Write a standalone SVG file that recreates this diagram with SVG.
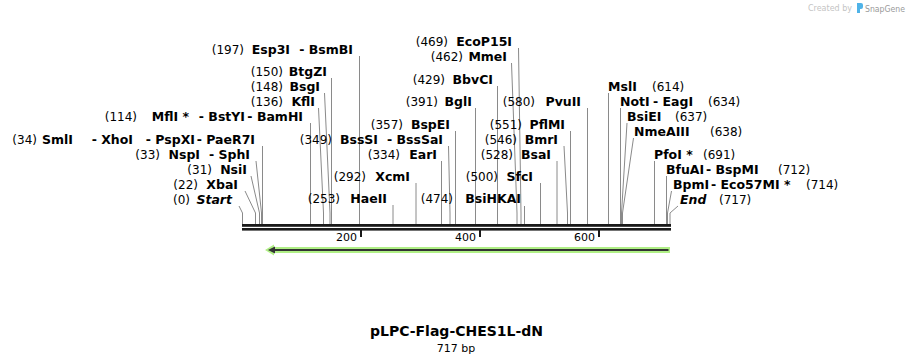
<svg xmlns="http://www.w3.org/2000/svg" width="913" height="363" viewBox="0 0 913 363">
<style>
text{font-family:"DejaVu Sans",Verdana,sans-serif;font-size:12px;fill:#000}
.b{font-weight:bold;font-size:12.5px}
.i{font-weight:bold;font-style:italic;font-size:12.5px}
.e{text-anchor:end}
.s{text-anchor:start}
.ln{stroke:#8a8a8a;stroke-width:1;fill:none}
.sc{font-size:11px}
</style>
<rect width="913" height="363" fill="#fff"/>
<g id="credit">
<text x="852" y="11" class="e" style="font-size:8px;fill:#c4c4c4">Created by</text>
<path d="M857,3 h4 a2,2 0 0 1 2,2 v2 a2,2 0 0 1 -2,2 h-1 v4 h-3 z" fill="#4fb3e8"/>
<text x="865" y="11.5" textLength="40" lengthAdjust="spacingAndGlyphs" style="font-size:9.5px;fill:#9a9a9a">SnapGene</text>
</g>
<g id="connectors">
<path class="ln" d="M239,206 L242.5,213 V224"/>
<path class="ln" d="M245,191 L255.5,213 V224"/>
<path class="ln" d="M251,176 L259.5,213 V224"/>
<path class="ln" d="M256,161 L261.5,213 V224"/>
<path class="ln" d="M262.5,146 V224"/>
<path class="ln" d="M310.5,123 V224"/>
<path class="ln" d="M318.5,108 L323.5,213 V224"/>
<path class="ln" d="M324.5,93 L330,213 V224"/>
<path class="ln" d="M331.5,78 V224"/>
<path class="ln" d="M359.5,56 V224"/>
<path class="ln" d="M393,205 V224"/>
<path class="ln" d="M416,183 V224"/>
<path class="ln" d="M441.5,161 V224"/>
<path class="ln" d="M448.5,146 L450,213 V224"/>
<path class="ln" d="M455.5,131 V224"/>
<path class="ln" d="M475.5,108 V224"/>
<path class="ln" d="M497.5,86 V224"/>
<path class="ln" d="M511.5,63 L517,213 V224"/>
<path class="ln" d="M518.5,48 L521,213 V224"/>
<path class="ln" d="M524.5,206 V224"/>
<path class="ln" d="M540.5,183 V224"/>
<path class="ln" d="M557,161 V224"/>
<path class="ln" d="M564,146 L567.5,213 V224"/>
<path class="ln" d="M570.5,131 V224"/>
<path class="ln" d="M587.5,108 V224"/>
<path class="ln" d="M608.5,93 V224"/>
<path class="ln" d="M620.5,108 V224"/>
<path class="ln" d="M627,123 L621.5,213 V224"/>
<path class="ln" d="M633.5,138 L622.5,213 V224"/>
<path class="ln" d="M654.5,161 V224"/>
<path class="ln" d="M666.5,176 V224"/>
<path class="ln" d="M671.5,191 L667.5,213 V224"/>
<path class="ln" d="M678,206 L670,213 V224"/>
</g>
<g id="sequence">
<rect x="242" y="224" width="429" height="2.8" fill="#1a1a1a"/>
<rect x="242" y="228" width="429" height="2.6" fill="#1a1a1a"/>
<rect x="360" y="230" width="2" height="7" fill="#1a1a1a"/>
<rect x="479" y="230" width="2" height="7" fill="#1a1a1a"/>
<rect x="598" y="230" width="2" height="7" fill="#1a1a1a"/>
<text class="e sc" x="357" y="241">200</text>
<text class="e sc" x="476" y="241">400</text>
<text class="e sc" x="595" y="241">600</text>
</g>
<g id="feature">
<polygon points="265,250 274,244.5 274,247 670,247 670,253 274,253 274,255.5" fill="#b0ef86"/>
<line x1="272" y1="250" x2="668.5" y2="250" stroke="#333" stroke-width="2"/>
<polygon points="268,250 275,246.5 275,253.5" fill="#333"/>
</g>
<g id="Start"><text class="e" y="204"><tspan x="190">(0)</tspan><tspan class="i" x="232">Start</tspan></text></g>
<g id="XbaI"><text class="e" y="189"><tspan x="198">(22)</tspan><tspan class="b" x="238">XbaI</tspan></text></g>
<g id="NsiI"><text class="e" y="174"><tspan x="212">(31)</tspan><tspan class="b" x="247">NsiI</tspan></text></g>
<g id="NspI"><text class="e" y="159"><tspan x="160">(33)</tspan><tspan class="b" x="200">NspI</tspan><tspan class="b" x="250">- SphI</tspan></text></g>
<g id="SmlI"><text class="e" y="144"><tspan x="37">(34)</tspan><tspan class="b" x="73">SmlI</tspan><tspan class="b" x="133">- XhoI</tspan><tspan class="b" x="195">- PspXI</tspan><tspan class="b" x="255">- PaeR7I</tspan></text></g>
<g id="MflI"><text class="e" y="121"><tspan x="137">(114)</tspan><tspan class="b" x="189">MflI *</tspan><tspan class="b" x="245">- BstYI</tspan><tspan class="b" x="303">- BamHI</tspan></text></g>
<g id="KflI"><text class="e" y="106"><tspan x="283">(136)</tspan><tspan class="b" x="315">KflI</tspan></text></g>
<g id="BsgI"><text class="e" y="91"><tspan x="283">(148)</tspan><tspan class="b" x="320">BsgI</tspan></text></g>
<g id="BtgZI"><text class="e" y="76"><tspan x="283">(150)</tspan><tspan class="b" x="327">BtgZI</tspan></text></g>
<g id="Esp3I"><text class="e" y="54"><tspan x="244">(197)</tspan><tspan class="b" x="290">Esp3I</tspan><tspan class="b" x="353">- BsmBI</tspan></text></g>
<g id="HaeII"><text class="e" y="203"><tspan x="340">(253)</tspan><tspan class="b" x="387">HaeII</tspan></text></g>
<g id="XcmI"><text class="e" y="181"><tspan x="366">(292)</tspan><tspan class="b" x="410">XcmI</tspan></text></g>
<g id="EarI"><text class="e" y="159"><tspan x="400">(334)</tspan><tspan class="b" x="437">EarI</tspan></text></g>
<g id="BssSI"><text class="e" y="144"><tspan x="332">(349)</tspan><tspan class="b" x="378">BssSI</tspan><tspan class="b" x="443">- BssSaI</tspan></text></g>
<g id="BspEI"><text class="e" y="129"><tspan x="403">(357)</tspan><tspan class="b" x="450">BspEI</tspan></text></g>
<g id="BglI"><text class="e" y="106"><tspan x="438">(391)</tspan><tspan class="b" x="472">BglI</tspan></text></g>
<g id="BbvCI"><text class="e" y="84"><tspan x="445">(429)</tspan><tspan class="b" x="493">BbvCI</tspan></text></g>
<g id="MmeI"><text class="e" y="61"><tspan x="463">(462)</tspan><tspan class="b" x="507">MmeI</tspan></text></g>
<g id="EcoP15I"><text class="e" y="46"><tspan x="448">(469)</tspan><tspan class="b" x="512">EcoP15I</tspan></text></g>
<g id="BsiHKAI"><text class="e" y="203"><tspan x="453">(474)</tspan><tspan class="b" x="521">BsiHKAI</tspan></text></g>
<g id="SfcI"><text class="e" y="181"><tspan x="498">(500)</tspan><tspan class="b" x="533">SfcI</tspan></text></g>
<g id="BsaI"><text class="e" y="159"><tspan x="513">(528)</tspan><tspan class="b" x="551">BsaI</tspan></text></g>
<g id="BmrI"><text class="e" y="144"><tspan x="517">(546)</tspan><tspan class="b" x="558">BmrI</tspan></text></g>
<g id="PflMI"><text class="e" y="129"><tspan x="522">(551)</tspan><tspan class="b" x="565">PflMI</tspan></text></g>
<g id="PvuII"><text class="e" y="106"><tspan x="535">(580)</tspan><tspan class="b" x="581">PvuII</tspan></text></g>
<g id="MslI"><text class="s" y="91"><tspan class="b" x="608">MslI</tspan><tspan x="652">(614)</tspan></text></g>
<g id="NotI"><text class="s" y="106"><tspan class="b" x="620">NotI</tspan><tspan class="b" x="653">- EagI</tspan><tspan x="708">(634)</tspan></text></g>
<g id="BsiEI"><text class="s" y="121"><tspan class="b" x="627">BsiEI</tspan><tspan x="675">(637)</tspan></text></g>
<g id="NmeAIII"><text class="s" y="136"><tspan class="b" x="634">NmeAIII</tspan><tspan x="710">(638)</tspan></text></g>
<g id="PfoI"><text class="s" y="159"><tspan class="b" x="654">PfoI *</tspan><tspan x="703">(691)</tspan></text></g>
<g id="BfuAI"><text class="s" y="174"><tspan class="b" x="666">BfuAI</tspan><tspan class="b" x="706">- BspMI</tspan><tspan x="778">(712)</tspan></text></g>
<g id="BpmI"><text class="s" y="189"><tspan class="b" x="673">BpmI</tspan><tspan class="b" x="711">- Eco57MI *</tspan><tspan x="806">(714)</tspan></text></g>
<g id="End"><text class="s" y="204"><tspan class="i" x="680">End</tspan><tspan x="719">(717)</tspan></text></g>
<g id="title">
<text x="456.5" y="336" text-anchor="middle" class="b" style="font-size:14px">pLPC-Flag-CHES1L-dN</text>
<text x="456" y="352" text-anchor="middle" style="font-size:11px">717 bp</text>
</g>
</svg>
